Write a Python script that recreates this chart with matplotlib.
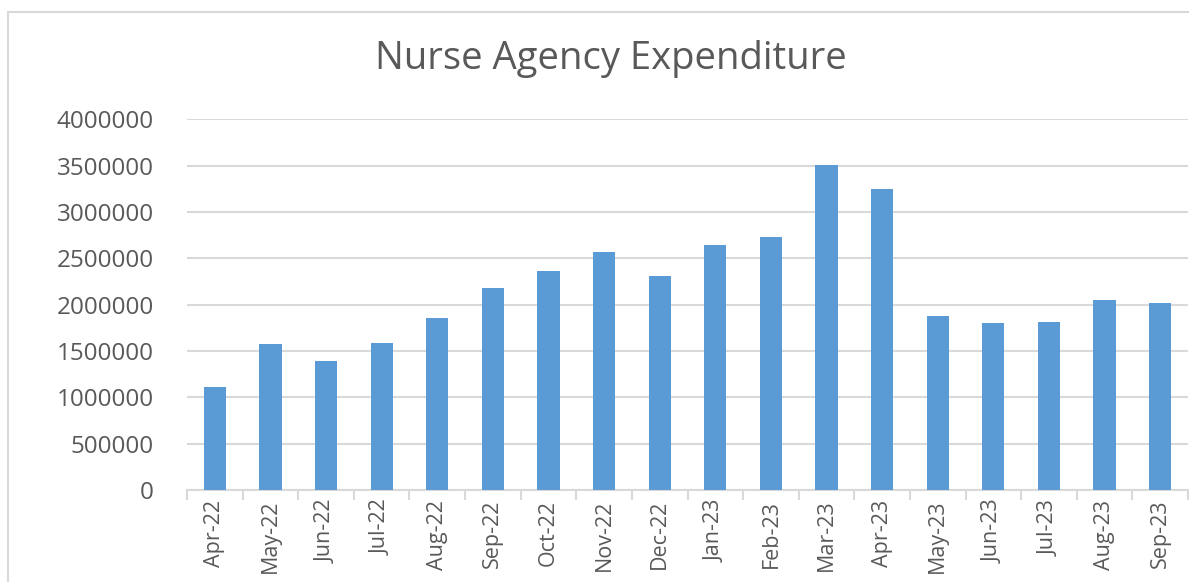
import matplotlib
matplotlib.use("Agg")
import matplotlib.pyplot as plt
from matplotlib.patches import Rectangle
import numpy as np

# Monthly nurse agency spend
months = ["Apr-22", "May-22", "Jun-22", "Jul-22", "Aug-22", "Sep-22",
          "Oct-22", "Nov-22", "Dec-22", "Jan-23", "Feb-23", "Mar-23",
          "Apr-23", "May-23", "Jun-23", "Jul-23", "Aug-23", "Sep-23"]
spend = [1108000, 1575000, 1395000, 1589000, 1852000, 2183000,
         2362000, 2571000, 2308000, 2639000, 2725000, 3509000,
         3243000, 1877000, 1798000, 1812000, 2046000, 2017000]
y_ticks = [0, 500000, 1000000, 1500000, 2000000, 2500000, 3000000, 3500000, 4000000]

text_col = "#595959"
grid_col = "#D9D9D9"
bar_col = "#5B9BD5"

plt.rcParams['font.family'] = ['Open Sans', 'DejaVu Sans']

W, H = 1189, 582
fig = plt.figure(figsize=(W / 100, H / 100), dpi=100)

# outer chart border (runs off the right/bottom of the crop)
fig.patches.append(Rectangle((8 / W, -0.1), 1.2, 1.1 - 12 / H, transform=fig.transFigure,
                             fill=False, edgecolor=grid_col, linewidth=1.5))

ax = fig.add_axes([187 / W, (H - 490) / H, (1188 - 187) / W, 370.7 / H])
x = np.arange(len(months))
ax.bar(x, spend, width=0.4, color=bar_col, zorder=3)

ax.set_xlim(-0.5, len(months) - 0.5)
ax.set_ylim(0, 4000000)
ax.set_yticks(y_ticks)
ax.set_yticklabels([str(v) for v in y_ticks], fontsize=17.5, color=text_col)
ax.yaxis.grid(True, color=grid_col, linewidth=1.5, zorder=0)
ax.tick_params(axis='y', length=0, pad=24)

ax.set_xticks(x)
ax.set_xticklabels(months, rotation=90, fontsize=15.5, color=text_col)
ax.set_xticks(np.arange(len(months) + 1) - 0.5, minor=True)
ax.tick_params(axis='x', which='major', length=0, pad=7)
ax.tick_params(axis='x', which='minor', length=7, width=1.5, color=grid_col)

for side in ["top", "right", "left"]:
    ax.spines[side].set_visible(False)
ax.spines["bottom"].set_color(grid_col)
ax.spines["bottom"].set_linewidth(1.5)

fig.text(611 / W, 1 - 59 / H, "Nurse Agency Expenditure", ha="center", va="center",
         fontsize=27.5, color=text_col)

fig.savefig("out.png", dpi=100)
